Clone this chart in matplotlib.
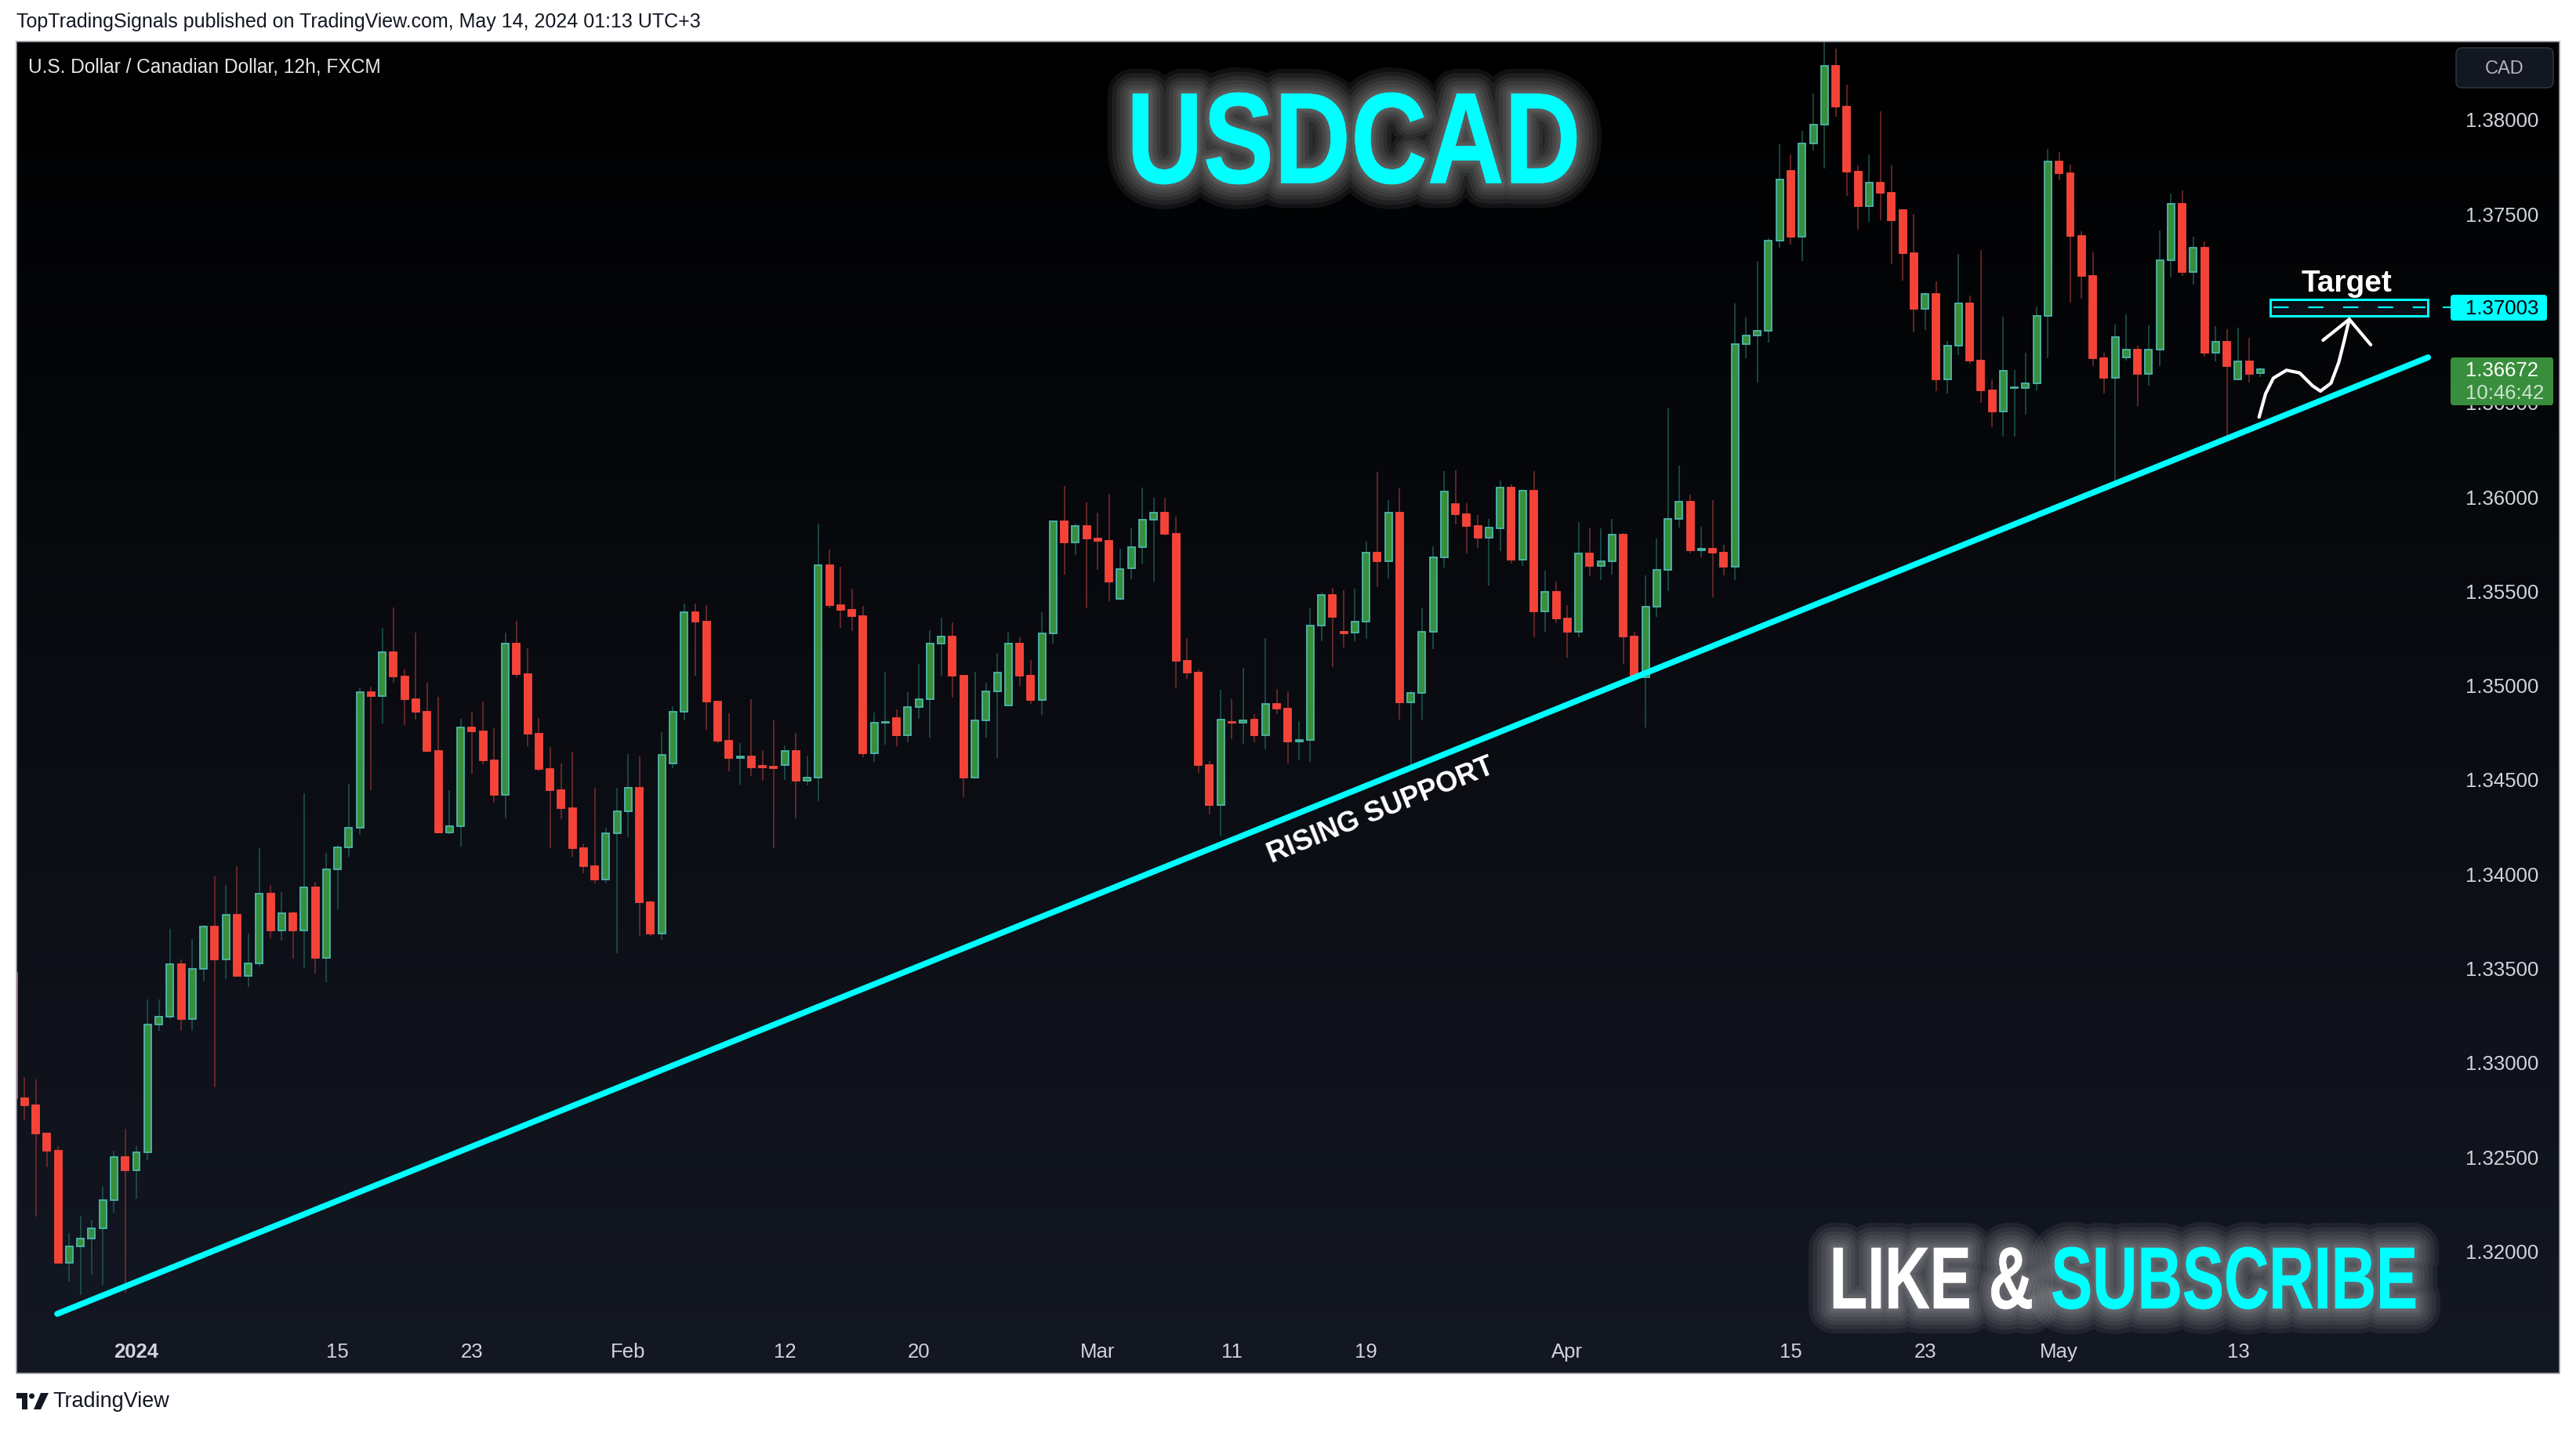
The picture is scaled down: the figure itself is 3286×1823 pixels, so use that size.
import numpy as np
import matplotlib
matplotlib.use("Agg")
import matplotlib.pyplot as plt
import matplotlib.patheffects as pe
import matplotlib.transforms as mtransforms
from matplotlib.colors import LinearSegmentedColormap
from matplotlib.font_manager import FontProperties
from matplotlib.lines import Line2D
from matplotlib.patches import FancyBboxPatch, PathPatch, Polygon, Rectangle, Circle
from matplotlib.textpath import TextPath

plt.rcParams["font.family"] = ["Liberation Sans", "DejaVu Sans"]
plt.rcParams["lines.scale_dashes"] = False

W, H = 3286, 1824

# USDCAD 12h candles (FXCM), index -1 is the one cut by the left edge, 200 = May 14 00:00
start_idx = -1
opens = [1.33472,
    1.32809, 1.32772, 1.32621, 1.32529, 1.31937, 1.32021, 1.32066, 1.32117, 1.32270, 1.32498,
    1.32425, 1.32523, 1.33197, 1.33242, 1.33517, 1.33229, 1.33493, 1.33717, 1.33542, 1.33782,
    1.33458, 1.33523, 1.33891, 1.33699, 1.33791, 1.33699, 1.33925, 1.33554, 1.34023, 1.34140,
    1.34244, 1.34960, 1.34939, 1.35174, 1.35046, 1.34924, 1.34859, 1.34651, 1.34219, 1.34252,
    1.34776, 1.34755, 1.34601, 1.34415, 1.35217, 1.35055, 1.34740, 1.34553, 1.34440, 1.34345,
    1.34132, 1.34037, 1.33967, 1.34215, 1.34331, 1.34452, 1.33848, 1.33680, 1.34583, 1.34859,
    1.35386, 1.35334, 1.34910, 1.34705, 1.34610, 1.34620, 1.34570, 1.34565, 1.34576, 1.34648,
    1.34493, 1.34507, 1.35633, 1.35424, 1.35396, 1.35363, 1.34636, 1.34798, 1.34825, 1.34731,
    1.34884, 1.34922, 1.35220, 1.35258, 1.35047, 1.34510, 1.34812, 1.34964, 1.34892, 1.35217,
    1.35047, 1.34918, 1.35271, 1.35869, 1.35754, 1.35844, 1.35774, 1.35763, 1.35456, 1.35618,
    1.35729, 1.35877, 1.35914, 1.35802, 1.35126, 1.35064, 1.34573, 1.34361, 1.34805, 1.34800,
    1.34814, 1.34731, 1.34897, 1.34873, 1.34698, 1.34709, 1.35316, 1.35475, 1.35280, 1.35276,
    1.35334, 1.35702, 1.35657, 1.35914, 1.34909, 1.34958, 1.35283, 1.35677, 1.35957, 1.35906,
    1.35844, 1.35779, 1.35830, 1.36046, 1.35665, 1.36031, 1.35390, 1.35492, 1.35352, 1.35283,
    1.35695, 1.35632, 1.35655, 1.35797, 1.35258, 1.35039, 1.35415, 1.35611, 1.35881, 1.35973,
    1.35713, 1.35721, 1.35700, 1.35627, 1.36807, 1.36851, 1.36878, 1.37357, 1.37726, 1.37375,
    1.37871, 1.37968, 1.38283, 1.38067, 1.37722, 1.37537, 1.37664, 1.37610, 1.37515, 1.37290,
    1.36995, 1.37074, 1.36620, 1.36797, 1.37024, 1.36718, 1.36562, 1.36448, 1.36575, 1.36572,
    1.36597, 1.36958, 1.37773, 1.37714, 1.37381, 1.37167, 1.36730, 1.36626, 1.36735, 1.36779,
    1.36648, 1.36776, 1.37253, 1.37552, 1.37190, 1.37316, 1.36762, 1.36820, 1.36620, 1.36714,
    1.36652]
highs = [1.33500,
    1.32921, 1.32907, 1.32621, 1.32554, 1.32094, 1.32184, 1.32164, 1.32339, 1.32529, 1.32646,
    1.32554, 1.33332, 1.33332, 1.33707, 1.33544, 1.33652, 1.33727, 1.33983, 1.33938, 1.34040,
    1.33683, 1.34136, 1.33938, 1.33901, 1.33799, 1.34426, 1.33956, 1.34111, 1.34150, 1.34474,
    1.34985, 1.34992, 1.35300, 1.35410, 1.35080, 1.35276, 1.35013, 1.34935, 1.34440, 1.34819,
    1.34856, 1.34911, 1.34768, 1.35276, 1.35338, 1.35194, 1.34823, 1.34669, 1.34583, 1.34645,
    1.34155, 1.34454, 1.34241, 1.34454, 1.34633, 1.34620, 1.33856, 1.34749, 1.34886, 1.35432,
    1.35432, 1.35423, 1.34916, 1.34849, 1.34691, 1.34923, 1.34654, 1.34812, 1.34679, 1.34745,
    1.34625, 1.35855, 1.35718, 1.35626, 1.35510, 1.35417, 1.34853, 1.35069, 1.34870, 1.34961,
    1.35111, 1.35290, 1.35355, 1.35331, 1.35047, 1.35069, 1.35010, 1.35169, 1.35280, 1.35252,
    1.35130, 1.35385, 1.35869, 1.36053, 1.35853, 1.35966, 1.35913, 1.36013, 1.35722, 1.35834,
    1.36046, 1.35992, 1.35992, 1.35892, 1.35247, 1.35083, 1.34597, 1.34974, 1.34925, 1.35089,
    1.34845, 1.35247, 1.34978, 1.34964, 1.34808, 1.35406, 1.35490, 1.35514, 1.35501, 1.35510,
    1.35758, 1.36129, 1.35978, 1.36040, 1.34969, 1.35410, 1.35734, 1.36133, 1.36137, 1.35961,
    1.35899, 1.35878, 1.36082, 1.36064, 1.36039, 1.36133, 1.35606, 1.35548, 1.35423, 1.35861,
    1.35835, 1.35830, 1.35881, 1.35805, 1.35281, 1.35581, 1.35777, 1.36466, 1.36161, 1.36008,
    1.35840, 1.35980, 1.35741, 1.37024, 1.36947, 1.37247, 1.37369, 1.37866, 1.37812, 1.37935,
    1.38138, 1.38460, 1.38372, 1.38181, 1.37753, 1.37811, 1.38039, 1.37753, 1.37520, 1.37495,
    1.37080, 1.37138, 1.36823, 1.37284, 1.37065, 1.37304, 1.36620, 1.36951, 1.36670, 1.36762,
    1.37007, 1.37840, 1.37826, 1.37757, 1.37403, 1.37292, 1.36762, 1.36910, 1.36963, 1.36798,
    1.36905, 1.37408, 1.37604, 1.37620, 1.37374, 1.37349, 1.36900, 1.36886, 1.36893, 1.36838,
    1.36681]
lows = [1.32780,
    1.32692, 1.32182, 1.32441, 1.31937, 1.31835, 1.31766, 1.31874, 1.31817, 1.32203, 1.31778,
    1.32278, 1.32478, 1.33164, 1.33229, 1.33166, 1.33164, 1.33429, 1.32868, 1.33442, 1.33458,
    1.33397, 1.33507, 1.33656, 1.33644, 1.33550, 1.33499, 1.33468, 1.33425, 1.33809, 1.34089,
    1.34203, 1.34442, 1.34795, 1.35010, 1.34788, 1.34817, 1.34642, 1.34215, 1.34207, 1.34143,
    1.34527, 1.34580, 1.34377, 1.34293, 1.35042, 1.34676, 1.34543, 1.34136, 1.34289, 1.34090,
    1.34003, 1.33949, 1.33945, 1.33578, 1.34194, 1.33670, 1.33670, 1.33648, 1.34558, 1.34813,
    1.35050, 1.34760, 1.34691, 1.34543, 1.34470, 1.34516, 1.34491, 1.34134, 1.34496, 1.34292,
    1.34468, 1.34385, 1.35407, 1.35303, 1.35287, 1.34615, 1.34590, 1.34684, 1.34676, 1.34697,
    1.34821, 1.34718, 1.35047, 1.34934, 1.34403, 1.34507, 1.34718, 1.34611, 1.34892, 1.34996,
    1.34897, 1.34839, 1.35220, 1.35585, 1.35690, 1.35407, 1.35611, 1.35445, 1.35449, 1.35560,
    1.35643, 1.35549, 1.35792, 1.34983, 1.35030, 1.34534, 1.34313, 1.34195, 1.34712, 1.34687,
    1.34697, 1.34659, 1.34846, 1.34583, 1.34604, 1.34590, 1.35233, 1.35096, 1.35199, 1.35231,
    1.35245, 1.35518, 1.35564, 1.34814, 1.34551, 1.34816, 1.35188, 1.35621, 1.35851, 1.35698,
    1.35725, 1.35525, 1.35708, 1.35644, 1.35632, 1.35250, 1.35283, 1.35326, 1.35143, 1.35250,
    1.35576, 1.35555, 1.35586, 1.35110, 1.35034, 1.34774, 1.35359, 1.35497, 1.35835, 1.35695,
    1.35677, 1.35466, 1.35581, 1.35555, 1.36731, 1.36604, 1.36815, 1.37319, 1.37336, 1.37247,
    1.37833, 1.37739, 1.38011, 1.37591, 1.37415, 1.37456, 1.37461, 1.37231, 1.37145, 1.36867,
    1.36883, 1.36558, 1.36543, 1.36750, 1.36704, 1.36496, 1.36365, 1.36317, 1.36317, 1.36434,
    1.36562, 1.36733, 1.37677, 1.37028, 1.37046, 1.36692, 1.36546, 1.36077, 1.36721, 1.36477,
    1.36587, 1.36692, 1.37158, 1.37170, 1.37123, 1.36740, 1.36714, 1.36298, 1.36620, 1.36604,
    1.36630]
closes = [1.32809,
    1.32772, 1.32621, 1.32529, 1.31937, 1.32021, 1.32066, 1.32117, 1.32270, 1.32498, 1.32425,
    1.32523, 1.33197, 1.33242, 1.33517, 1.33229, 1.33493, 1.33717, 1.33542, 1.33782, 1.33458,
    1.33523, 1.33891, 1.33699, 1.33791, 1.33699, 1.33925, 1.33554, 1.34023, 1.34140, 1.34244,
    1.34960, 1.34939, 1.35174, 1.35046, 1.34924, 1.34859, 1.34651, 1.34219, 1.34252, 1.34776,
    1.34755, 1.34601, 1.34415, 1.35217, 1.35055, 1.34740, 1.34553, 1.34440, 1.34345, 1.34132,
    1.34037, 1.33967, 1.34215, 1.34331, 1.34452, 1.33848, 1.33680, 1.34630, 1.34859, 1.35386,
    1.35334, 1.34910, 1.34705, 1.34610, 1.34620, 1.34564, 1.34564, 1.34560, 1.34648, 1.34493,
    1.34507, 1.35633, 1.35424, 1.35396, 1.35363, 1.34636, 1.34798, 1.34805, 1.34731, 1.34884,
    1.34922, 1.35220, 1.35258, 1.35047, 1.34510, 1.34812, 1.34964, 1.35064, 1.35217, 1.35047,
    1.34918, 1.35271, 1.35869, 1.35754, 1.35844, 1.35774, 1.35763, 1.35549, 1.35615, 1.35729,
    1.35877, 1.35914, 1.35802, 1.35126, 1.35064, 1.34573, 1.34361, 1.34814, 1.34800, 1.34812,
    1.34731, 1.34897, 1.34873, 1.34698, 1.34709, 1.35316, 1.35475, 1.35362, 1.35274, 1.35334,
    1.35702, 1.35657, 1.35914, 1.34909, 1.34958, 1.35283, 1.35677, 1.36026, 1.35906, 1.35844,
    1.35779, 1.35833, 1.36046, 1.35665, 1.36031, 1.35390, 1.35492, 1.35352, 1.35283, 1.35695,
    1.35632, 1.35655, 1.35797, 1.35258, 1.35039, 1.35415, 1.35611, 1.35881, 1.35973, 1.35713,
    1.35721, 1.35700, 1.35627, 1.36807, 1.36851, 1.36878, 1.37357, 1.37680, 1.37375, 1.37871,
    1.37968, 1.38283, 1.38067, 1.37722, 1.37537, 1.37664, 1.37610, 1.37461, 1.37290, 1.36995,
    1.37074, 1.36620, 1.36797, 1.37024, 1.36718, 1.36562, 1.36448, 1.36663, 1.36578, 1.36597,
    1.36958, 1.37773, 1.37714, 1.37381, 1.37167, 1.36730, 1.36626, 1.36842, 1.36779, 1.36648,
    1.36776, 1.37253, 1.37552, 1.37190, 1.37316, 1.36762, 1.36820, 1.36689, 1.36714, 1.36650,
    1.36672]

date_ticks = [10, 28, 40, 54, 68, 80, 96, 108, 120, 138, 158, 170, 182, 198]
date_labels = ["2024", "15", "23", "Feb", "12", "20", "Mar", "11", "19", "Apr", "15", "23", "May", "13"]
price_ticks = [1.320, 1.325, 1.330, 1.335, 1.340, 1.345, 1.350, 1.355, 1.360, 1.365, 1.370, 1.375, 1.380]

# drawings on the chart
support_x = [2.92, 215.0]
support_y = [1.31665, 1.36736]
target_price = 1.37003
target_x = [200.9, 215.0]
target_band = [1.36956, 1.37043]
arrow_x = [199.88, 200.46, 201.16, 202.33, 203.50, 204.67, 205.37, 206.31, 207.01, 207.48, 207.95]
arrow_y = [1.36419, 1.36543, 1.36626, 1.36668, 1.36654, 1.36585, 1.36557, 1.36599, 1.36710, 1.36820, 1.36938]
head_x = [205.60, 207.95, 209.87]
head_y = [1.36827, 1.36938, 1.36803]
last_price = 1.36672
countdown = "10:46:42"

fig = plt.figure(figsize=(W / 100, H / 100), dpi=100)
fig.patch.set_facecolor("white")
# pixel coords, origin top-left
px = mtransforms.Affine2D().scale(1.0 / W, -1.0 / H).translate(0, 1) + fig.transFigure

def box(l, t, r, b):
    return [l / W, 1 - b / H, (r - l) / W, (b - t) / H]

# dark panel with vertical gradient
bg = fig.add_axes(box(21, 54, 3265, 1753))
bg.set_axis_off()
cmap = LinearSegmentedColormap.from_list("bg", ["#000000", "#141823"])
bg.imshow(np.linspace(0, 1, 256)[:, None], aspect="auto", cmap=cmap, extent=[0, 1, 0, 1])
bg.set_xlim(0, 1)
bg.set_ylim(0, 1)

ax = fig.add_axes(box(21, 54, 3116, 1702))
ax.set_facecolor("none")
for s in ax.spines.values():
    s.set_visible(False)
ax.set_xlim(-0.729, 216.31)
ax.set_ylim(1.315614, 1.384106)

x = np.arange(start_idx, start_idx + len(opens))
o = np.array(opens)
hi = np.array(highs)
lo = np.array(lows)
c = np.array(closes)
up = c >= o

wick_col = np.where(up, "#1d5750", "#7d2d2f")
body_col = np.where(up, "#388e3c", "#f44336")
edge_col = np.where(up, "#4db6ac", "#f6463c")

ax.vlines(x, lo, hi, colors=wick_col, lw=1.1, zorder=2)
ax.bar(x, np.abs(c - o), bottom=np.minimum(o, c), width=0.63, color=body_col,
       edgecolor=edge_col, linewidth=1.3, zorder=3)

# rising support
ax.plot(support_x, support_y, color="#00ffff", lw=5.5, solid_capstyle="round", zorder=5)
ax.text(121.3, 1.34334, "RISING SUPPORT", rotation=22, rotation_mode="anchor",
        ha="center", va="center", fontsize=26, fontweight="bold", color="white", zorder=6)

# target zone
ax.add_patch(Rectangle((target_x[0], target_band[0]), target_x[1] - target_x[0],
                       target_band[1] - target_band[0], fc="#0b0f17", ec="#00ffff", lw=2.2, zorder=6))
ax.plot([target_x[0] + 0.25, target_x[1] - 0.2], [target_price, target_price], color="#00ffff",
        lw=1.6, dashes=(14, 18), zorder=7)
ax.text(207.7, 1.37090, "Target", ha="center", va="baseline", fontsize=28,
        fontweight="bold", color="white", zorder=7)

# hand drawn arrow
ax.plot(arrow_x, arrow_y, color="white", lw=3, solid_joinstyle="round", solid_capstyle="round", zorder=8)
ax.plot(head_x, head_y, color="white", lw=3, solid_joinstyle="round", solid_capstyle="round", zorder=8)

# axes ticks
ax.yaxis.tick_right()
ax.set_yticks(price_ticks)
ax.set_yticklabels([f"{v:.5f}" for v in price_ticks])
ax.tick_params(axis="y", length=0, pad=21, labelsize=18.5, labelcolor="#d1d4dc")
ax.set_xticks(date_ticks)
ax.set_xticklabels(date_labels)
ax.tick_params(axis="x", length=0, pad=8, labelsize=18.5, labelcolor="#d1d4dc")
ax.get_xticklabels()[0].set_fontweight("bold")

# panel border
fig.add_artist(Rectangle((21, 54), 3244, 1699, transform=px, fill=False, ec="#9ea1a9", lw=1.2))

# right scale labels
fig.add_artist(Line2D([3117, 3126], [393, 393], transform=px, color="#00ffff", lw=1.5))
fig.add_artist(FancyBboxPatch((3126, 377), 123, 33, boxstyle="round,pad=0,rounding_size=4",
                              transform=px, fc="#00ffff", ec="none"))
fig.text(3145, 394, f"{target_price:.5f}", transform=px, ha="left", va="center",
         fontsize=18.5, color="#000000")
fig.add_artist(FancyBboxPatch((3126, 457), 131, 61, boxstyle="round,pad=0,rounding_size=4",
                              transform=px, fc="#388e3c", ec="none"))
fig.text(3145, 473, f"{last_price:.5f}", transform=px, ha="left", va="center",
         fontsize=18.5, color="white")
fig.text(3145, 502, countdown, transform=px, ha="left", va="center",
         fontsize=18.5, color="#cfe3cf")
fig.add_artist(FancyBboxPatch((3133, 62), 124, 51, boxstyle="round,pad=0,rounding_size=8",
                              transform=px, fc="#131722", ec="#363a45", lw=1))
fig.text(3195, 88, "CAD", transform=px, ha="center", va="center", fontsize=17, color="#b2b5be")

# header / footer texts
fits = []
t = fig.text(21, 28, "TopTradingSignals published on TradingView.com, May 14, 2024 01:13 UTC+3",
             transform=px, ha="left", va="center", fontsize=17, color="#131722")
fits.append((t, 876))
t = fig.text(36, 86, "U.S. Dollar / Canadian Dollar, 12h, FXCM", transform=px,
             ha="left", va="center", fontsize=17, color="#e6e6e6")
fits.append((t, 452))
t = fig.text(67, 1788, "TradingView", transform=px, ha="left", va="center",
             fontsize=17, color="#131722")
fits.append((t, 149))

# TradingView logo (rough)
fig.add_artist(Rectangle((21, 1778), 14, 7, transform=px, fc="#131722", ec="none"))
fig.add_artist(Rectangle((28, 1778), 7, 21, transform=px, fc="#131722", ec="none"))
fig.add_artist(Circle((40.5, 1782), 3.5, transform=px, fc="#131722", ec="none"))
fig.add_artist(Polygon([(52, 1778), (62, 1778), (52, 1799), (43, 1799)], transform=px,
                       fc="#131722", ec="none"))

# glowing headline words
bold = FontProperties(family="Liberation Sans", weight="bold")
glow = [pe.Stroke(linewidth=w, foreground="#c4c4c4", alpha=0.085, joinstyle="round", capstyle="round")
        for w in (46, 38, 30, 23, 16, 10, 6)]
glow.append(pe.Normal())

def word(path, tr, color):
    fig.add_artist(PathPatch(path, transform=tr + px, fc=color, ec=color, lw=0.5,
                             joinstyle="round", path_effects=glow))

tp = TextPath((0, 0), "USDCAD", size=100, prop=bold)
e = tp.get_extents()
tr = mtransforms.Affine2D().translate(-e.x0, -e.y0).scale(566 / e.width, -117 / e.height).translate(1445, 236)
word(tp, tr, "#00ffff")

full = TextPath((0, 0), "LIKE & SUBSCRIBE", size=100, prop=bold).get_extents()
cap = TextPath((0, 0), "LIKE", size=100, prop=bold).get_extents()
sx = (3081 - 2339) / full.width
sy = 77 / cap.height
tpa = TextPath((0, 0), "LIKE &", size=100, prop=bold)
word(tpa, mtransforms.Affine2D().translate(-full.x0, 0).scale(sx, -sy).translate(2339, 1670), "white")
tps = TextPath((0, 0), "SUBSCRIBE", size=100, prop=bold)
es = tps.get_extents()
word(tps, mtransforms.Affine2D().translate(-es.x1, 0).scale(sx, -sy).translate(3081, 1670), "#00ffff")

# size the plain texts to the widths in the reference
fig.canvas.draw()
rend = fig.canvas.get_renderer()
for t, target in fits:
    w = t.get_window_extent(rend).width
    t.set_fontsize(t.get_fontsize() * target / w)

fig.savefig("out.png", dpi=100, facecolor="white")
